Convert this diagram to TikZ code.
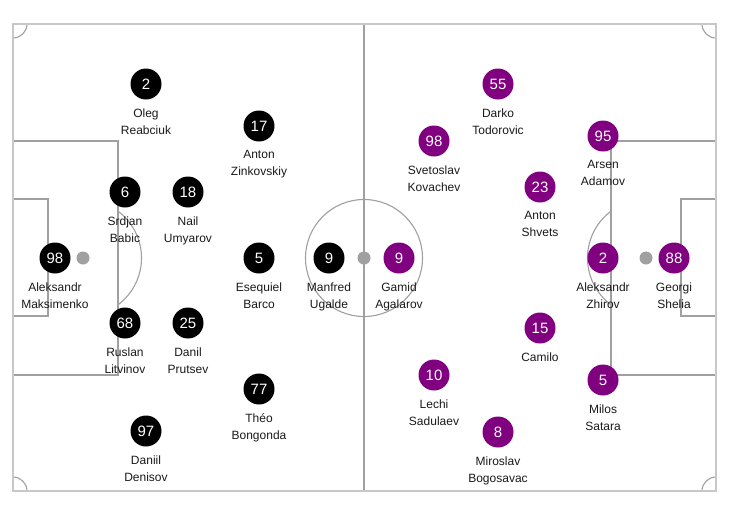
\documentclass[tikz,border=0pt]{standalone}
\usepackage{fontspec}
\setmainfont{Liberation Sans}
\usepackage{tikz}
\usetikzlibrary{positioning}
\definecolor{homeblack}{HTML}{000000}
\definecolor{awaypurple}{HTML}{800080}
\definecolor{linegray}{HTML}{A0A0A0}
\definecolor{edgegray}{HTML}{C8C8C8}
\definecolor{nametext}{HTML}{1A1A1A}

\begin{document}
\begin{tikzpicture}[
  x=1pt, y=-1pt,
  player/.style={circle, fill=#1, minimum size=31pt, inner sep=0pt, text=white, font=\fontsize{15}{15}\selectfont},
  pname/.style={align=center, inner sep=0pt, text=nametext, font=\fontsize{12}{17}\selectfont},
  pitch/.style={draw=linegray, line width=1.1pt},
  spot/.style={circle, fill=linegray, minimum size=13pt, inner sep=0pt}
]
  \useasboundingbox (0,0) rectangle (731,504);
  \fill[white] (0,0) rectangle (731,504);

  % Pitch
  \draw[pitch] (13,141) rectangle (118,375);
  \draw[pitch] (13,199) rectangle (48,316);
  \draw[pitch] (716,141) rectangle (611,375);
  \draw[pitch] (716,199) rectangle (681,316);
  \draw[pitch] (364,24) -- (364,491);
  \draw[pitch] (364,258) circle[radius=58.5];
  \begin{scope}
    \clip (118,0) rectangle (300,504);
    \draw[pitch] (83,258) circle[radius=58.5];
  \end{scope}
  \begin{scope}
    \clip (430,0) rectangle (611,504);
    \draw[pitch] (646,258) circle[radius=58.5];
  \end{scope}
  \begin{scope}
    \clip (13,24) rectangle (716,491);
    \foreach \cx/\cy in {13/24, 716/24, 13/491, 716/491}
      \draw[pitch] (\cx,\cy) circle[radius=14];
  \end{scope}
  \draw[pitch, draw=edgegray] (13,24) rectangle (716,491);

  % Spots
  \node[spot] (cspot) at (364,258) {};
  \node[spot] (lspot) at (83,258) {};
  \node[spot] (rspot) at (646,258) {};

  % Home team
  \node[player=homeblack] (h98) at (55,258) {98};
  \node[pname, below=8.5pt of h98] {Aleksandr\\Maksimenko};
  \node[player=homeblack] (h2) at (146,84) {2};
  \node[pname, below=8.5pt of h2] {Oleg\\Reabciuk};
  \node[player=homeblack] (h6) at (125,192) {6};
  \node[pname, below=8.5pt of h6] {Srdjan\\Babic};
  \node[player=homeblack] (h68) at (125,323) {68};
  \node[pname, below=8.5pt of h68] {Ruslan\\Litvinov};
  \node[player=homeblack] (h97) at (146,431) {97};
  \node[pname, below=8.5pt of h97] {Daniil\\Denisov};
  \node[player=homeblack] (h18) at (188,192) {18};
  \node[pname, below=8.5pt of h18] {Nail\\Umyarov};
  \node[player=homeblack] (h25) at (188,323) {25};
  \node[pname, below=8.5pt of h25] {Danil\\Prutsev};
  \node[player=homeblack] (h17) at (259,126) {17};
  \node[pname, below=8.5pt of h17] {Anton\\Zinkovskiy};
  \node[player=homeblack] (h5) at (259,258) {5};
  \node[pname, below=8.5pt of h5] {Esequiel\\Barco};
  \node[player=homeblack] (h77) at (259,389) {77};
  \node[pname, below=8.5pt of h77] {Théo\\Bongonda};
  \node[player=homeblack] (h9) at (329,258) {9};
  \node[pname, below=8.5pt of h9] {Manfred\\Ugalde};

  % Away team
  \node[player=awaypurple] (a9) at (399,258) {9};
  \node[pname, below=8.5pt of a9] {Gamid\\Agalarov};
  \node[player=awaypurple] (a55) at (498,84) {55};
  \node[pname, below=8.5pt of a55] {Darko\\Todorovic};
  \node[player=awaypurple] (a98) at (434,141) {98};
  \node[pname, below=8.5pt of a98] {Svetoslav\\Kovachev};
  \node[player=awaypurple] (a10) at (434,375) {10};
  \node[pname, below=8.5pt of a10] {Lechi\\Sadulaev};
  \node[player=awaypurple] (a8) at (498,432) {8};
  \node[pname, below=8.5pt of a8] {Miroslav\\Bogosavac};
  \node[player=awaypurple] (a23) at (540,187) {23};
  \node[pname, below=8.5pt of a23] {Anton\\Shvets};
  \node[player=awaypurple] (a15) at (540,328) {15};
  \node[pname, below=8.5pt of a15] {Camilo};
  \node[player=awaypurple] (a95) at (603,136) {95};
  \node[pname, below=8.5pt of a95] {Arsen\\Adamov};
  \node[player=awaypurple] (a2) at (603,258) {2};
  \node[pname, below=8.5pt of a2] {Aleksandr\\Zhirov};
  \node[player=awaypurple] (a5) at (603,380) {5};
  \node[pname, below=8.5pt of a5] {Milos\\Satara};
  \node[player=awaypurple] (a88) at (674,258) {88};
  \node[pname, below=8.5pt of a88] {Georgi\\Shelia};
\end{tikzpicture}
\end{document}
